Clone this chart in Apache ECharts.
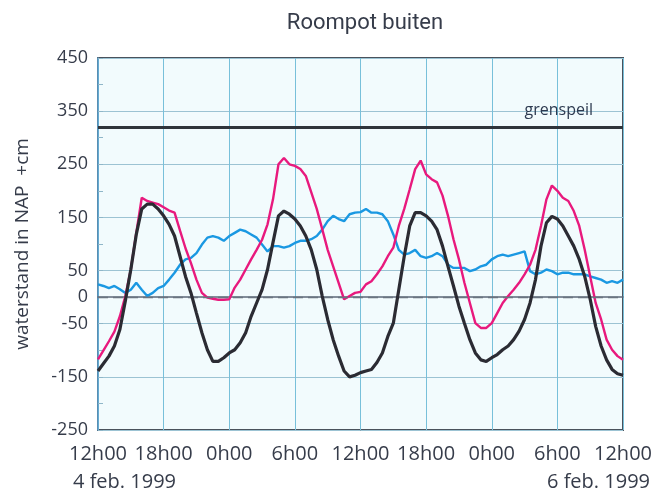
<!DOCTYPE html>
<html>
<head>
<meta charset="utf-8">
<script src="https://cdn.jsdelivr.net/npm/echarts@6/dist/echarts.min.js"></script>
<style>
html,body{margin:0;padding:0;background:#fff;}
#chart{width:669px;height:504px;}
</style>
</head>
<body>
<div id="chart"></div>
<script>
// ---- data (hours after 4 feb. 1999 12h00) ----
const hours = [0,0.5,1,1.5,2,2.5,3,3.5,4,4.5,5,5.5,6,6.5,7,7.5,8,8.5,9,9.5,
  10,10.5,11,11.5,12,12.5,13,13.5,14,14.5,15,15.5,16,16.5,17,17.5,18,18.5,19,19.5,
  20,20.5,21,21.5,22,22.5,23,23.5,24,24.5,25,25.5,26,26.5,27,27.5,28,28.5,29,29.5,
  30,30.5,31,31.5,32,32.5,33,33.5,34,34.5,35,35.5,36,36.5,37,37.5,38,38.5,39,39.5,
  40,40.5,41,41.5,42,42.5,43,43.5,44,44.5,45,45.5,46,46.5,47,47.5,48];

const magenta = [-117,-100,-83,-65,-36,2,52,121,187,181,
  178,175,169,163,159,125,92,64,33,8,
  -1,-3,-5,-5,-4,18,33,52,71,89,
  108,137,184,250,262,250,247,241,228,197,
  166,128,89,58,27,-4,2,8,10,24,
  30,43,58,77,93,134,166,203,241,257,
  231,222,216,191,153,109,71,27,-11,-49,
  -58,-58,-49,-30,-11,2,14,27,43,61,
  89,134,184,210,200,187,181,162,134,89,
  39,-11,-42,-80,-99,-111,-118];

const black = [-139,-125,-111,-92,-61,-7,52,118,166,175,
  175,166,153,137,115,77,39,8,-30,-67,
  -99,-121,-121,-114,-105,-99,-86,-67,-36,-11,
  14,52,103,153,162,156,147,134,115,89,
  52,2,-42,-80,-111,-139,-150,-147,-142,-139,
  -136,-123,-105,-74,-49,14,77,134,159,159,
  153,143,127,96,58,21,-17,-49,-80,-105,
  -118,-121,-114,-108,-99,-92,-80,-64,-42,-11,
  33,96,140,152,147,134,115,96,71,39,
  -4,-55,-92,-118,-136,-144,-147];

const blue = [24,21,17,21,15,8,14,27,14,2,
  8,17,21,33,46,61,71,74,83,99,
  112,115,112,106,115,121,127,124,118,112,
  99,86,96,96,93,96,102,106,106,109,
  115,127,143,153,147,143,156,159,160,166,
  159,159,156,143,118,89,80,83,89,77,
  74,77,83,77,61,55,55,55,49,52,
  58,61,71,77,80,77,80,83,86,49,
  43,46,52,49,43,46,46,43,43,43,
  39,36,33,27,30,27,33];

const grenspeil = 320;
const xTickLabels = ['12h00','18h00','0h00','6h00','12h00','18h00','0h00','6h00','12h00'];
const yTickLabels = [450,350,250,150,50,0,-50,-150,-250];
const dateLabels = ['4 feb. 1999','6 feb. 1999'];

const pair = arr => hours.map((h,i) => [h, arr[i]]);
const textColor = '#363c4a';
const font = "'Open Sans', sans-serif";

const chart = echarts.init(document.getElementById('chart'), null, {renderer:'canvas'});
chart.setOption({
  animation:false,
  backgroundColor:'#ffffff',
  title:{
    text:'Roompot buiten',
    left:360, top:7, textAlign:'center',
    textStyle:{fontFamily:"Roboto, sans-serif",fontSize:22,fontWeight:'normal',color:textColor}
  },
  grid:{
    left:98, top:58, right:46, bottom:74,
    show:true, backgroundColor:'#f2fbfd', borderColor:'#4a525c', borderWidth:2
  },
  xAxis:{
    type:'value', min:0, max:48, interval:6,
    axisLine:{show:true,lineStyle:{color:'#5c6878',width:1.5}},
    axisTick:{show:false},
    axisLabel:{
      margin:14, fontFamily:font, fontSize:20, color:textColor,
      formatter:v => xTickLabels[Math.round(v/6)]
    },
    splitLine:{show:true,lineStyle:{color:'#78c0da',width:1}}
  },
  yAxis:{
    type:'value', min:-250, max:450, interval:50,
    name:'waterstand in NAP  +cm', nameLocation:'middle', nameGap:66,
    nameTextStyle:{fontFamily:font,fontSize:19,color:textColor},
    axisLine:{show:true,lineStyle:{color:'#5ea3cf',width:1.5}},
    axisTick:{show:true,inside:true,length:5,lineStyle:{color:'#8fb6c8'}},
    axisLabel:{
      margin:10, fontFamily:font, fontSize:18, color:textColor,
      formatter:v => (yTickLabels.indexOf(v) >= 0 ? String(v) : '')
    },
    splitLine:{show:true,lineStyle:{color:['#9cc3d3','rgba(0,0,0,0)'],width:1}}
  },
  graphic:[
    {type:'text',left:73,top:472,style:{text:dateLabels[0],font:"20px 'Open Sans', sans-serif",fill:textColor}},
    {type:'text',left:547,top:472,style:{text:dateLabels[1],font:"20px 'Open Sans', sans-serif",fill:textColor}}
  ],
  series:[
    {
      name:'blauw', type:'line', data:pair(blue), showSymbol:false, symbol:'none',
      lineStyle:{color:'#1a98e2',width:2.4}, z:3,
      markLine:{
        silent:true, symbol:'none', animation:false,
        data:[
          {yAxis:0, lineStyle:{color:'#6a7480',width:1.4,type:[10,5]}, label:{show:false}},
          {yAxis:grenspeil, lineStyle:{color:'#2f353b',width:3,type:'solid'},
            label:{show:true,position:'insideEndTop',formatter:'grenspeil',distance:[30,9],
              fontFamily:font,fontSize:16,color:'#2d3a50'}}
        ]
      }
    },
    {
      name:'magenta', type:'line', data:pair(magenta), showSymbol:false, symbol:'none',
      lineStyle:{color:'#e8197d',width:2.4}, z:4
    },
    {
      name:'zwart', type:'line', data:pair(black), showSymbol:false, symbol:'none',
      lineStyle:{color:'#2b2b33',width:3.2}, z:5
    }
  ]
});
</script>
</body>
</html>
